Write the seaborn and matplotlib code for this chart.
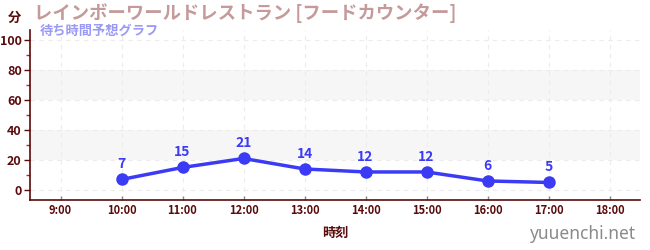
import matplotlib
matplotlib.use("Agg")
import matplotlib.pyplot as plt
import seaborn as sns
import pandas as pd
from matplotlib.ticker import MultipleLocator

sns.set_theme(style="white")
plt.rcParams['font.family'] = ['Noto Sans CJK JP', 'DejaVu Sans']

hours = [10, 11, 12, 13, 14, 15, 16, 17]
waits = [7, 15, 21, 14, 12, 12, 6, 5]
tick_hours = [9, 10, 11, 12, 13, 14, 15, 16, 17, 18]
tick_labels = ["9:00", "10:00", "11:00", "12:00", "13:00", "14:00", "15:00", "16:00", "17:00", "18:00"]
title = "レインボーワールドレストラン [フードカウンター]"
subtitle = "待ち時間予想グラフ"

df = pd.DataFrame({"hour": hours, "wait": waits})

fig = plt.figure(figsize=(6.5, 2.5), dpi=100)
ax = fig.add_axes([30/650, 1-200/250, 610/650, 170/250])

dark = "#5a0a0a"
blue = "#3b3bf5"

for lo, hi in [(20, 40), (60, 80)]:
    ax.axhspan(lo, hi, color="#f6f6f6", zorder=0, lw=0)

ax.set_xlim(8.5, 18.5)
ax.set_ylim(-6.7, 106.7)
ax.set_yticks([0, 20, 40, 60, 80, 100])
ax.yaxis.set_minor_locator(MultipleLocator(10))
ax.set_xticks(tick_hours)
ax.set_xticklabels(tick_labels)
ax.grid(True, which="major", color="#ececec", linestyle=(0, (4, 4)), linewidth=0.8, zorder=0)

sns.lineplot(data=df, x="hour", y="wait", ax=ax, color=blue, linewidth=2.5,
             marker="o", markersize=9, markeredgewidth=0, zorder=3)

for h, w in zip(hours, waits):
    ax.annotate(str(w), (h, w), xytext=(0, 6), textcoords="offset points",
                ha="center", va="bottom", color=blue, fontsize=10, fontweight="bold")

for s in ["top", "right"]:
    ax.spines[s].set_visible(False)
for s in ["left", "bottom"]:
    ax.spines[s].set_color(dark)
    ax.spines[s].set_linewidth(1.2)

ax.tick_params(axis="y", which="major", length=4, width=1, color=dark, labelcolor=dark, labelsize=9, pad=2, left=True)
ax.tick_params(axis="y", which="minor", length=3, width=1, color="#d02020", left=True)
ax.tick_params(axis="x", which="major", length=3, width=1, color="#888888", labelcolor=dark, labelsize=8, pad=3, bottom=True, direction="in")
for lab in ax.get_xticklabels() + ax.get_yticklabels():
    lab.set_fontweight("bold")

ax.set_xlabel("時刻", color=dark, fontsize=9.5, fontweight="bold", labelpad=6)
ax.set_ylabel("")

fig.text(8/650, 1-18/250, "分", color=dark, fontsize=9.5, fontweight="bold", va="center", ha="left")
fig.text(34/650, 1-13/250, title, color="#c49a9a", fontsize=13.2, fontweight="bold", va="center", ha="left")
fig.text(40/650, 1-31/250, subtitle, color="#9a9af5", fontsize=9.5, fontweight="bold", va="center", ha="left")
fig.text(636/650, 1-234/250, "yuuenchi.net", color="#8a8a8a", fontsize=12.5, va="center", ha="right",
         family=["Noto Sans", "DejaVu Sans"])

fig.savefig("out.png", dpi=100)
